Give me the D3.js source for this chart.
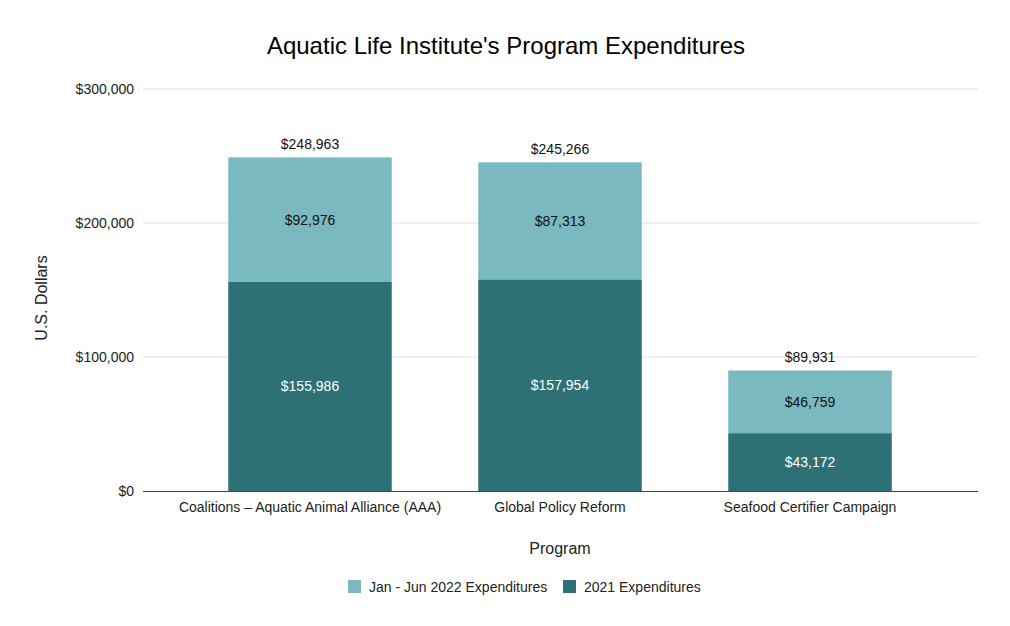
<!DOCTYPE html>
<html><head><meta charset="utf-8">
<script src="https://cdn.jsdelivr.net/npm/d3@7"></script>
<style>body{margin:0;background:#fff;} text{font-family:"Liberation Sans",Arial,sans-serif;}</style>
</head><body>
<svg id="c" width="1010" height="626"></svg>
<script>
const categories = ["Coalitions \u2013 Aquatic Animal Alliance (AAA)", "Global Policy Reform", "Seafood Certifier Campaign"];
const seriesNames = ["Jan - Jun 2022 Expenditures", "2021 Expenditures"];
const values2021 = [155986, 157954, 43172];
const values2022 = [92976, 87313, 46759];
const totals = [248963, 245266, 89931];
const yTicks = [0, 100000, 200000, 300000];
const colors = {"2021": "#2e7175", "2022": "#79b9bf"};

const svg = d3.select("#c");
const fmt = v => "$" + d3.format(",")(v);
const y = d3.scaleLinear().domain([0, 300000]).range([491, 89]);
const x = d3.scaleBand().domain(categories).range([185, 935]).paddingInner(0.346).paddingOuter(0.173);
const gridX0 = 143, gridX1 = 978;

svg.append("rect").attr("width",1010).attr("height",626).attr("fill","#fff");

svg.append("text").attr("x",506).attr("y",54).attr("text-anchor","middle")
  .attr("font-size",24).attr("fill","#000").text("Aquatic Life Institute's Program Expenditures");

yTicks.forEach(t => {
  if (t > 0) svg.append("line").attr("x1",gridX0).attr("x2",gridX1).attr("y1",y(t)).attr("y2",y(t))
    .attr("stroke","#e0e0e0").attr("stroke-width",1);
  svg.append("text").attr("x",134).attr("y",y(t)+5).attr("text-anchor","end")
    .attr("font-size",14).attr("fill","#222").text(fmt(t));
});

categories.forEach((c,i) => {
  const bx = x(c), bw = x.bandwidth();
  const v1 = values2021[i], v2 = values2022[i];
  svg.append("rect").attr("x",bx).attr("width",bw).attr("y",y(v1)).attr("height",y(0)-y(v1)).attr("fill",colors["2021"]);
  svg.append("rect").attr("x",bx).attr("width",bw).attr("y",y(v1+v2)).attr("height",y(v1)-y(v1+v2)).attr("fill",colors["2022"]);
  svg.append("text").attr("x",bx+bw/2).attr("y",(y(0)+y(v1))/2+5).attr("text-anchor","middle")
    .attr("font-size",14).attr("fill","#fff").text(fmt(v1));
  svg.append("text").attr("x",bx+bw/2).attr("y",(y(v1)+y(v1+v2))/2+5).attr("text-anchor","middle")
    .attr("font-size",14).attr("fill","#111").text(fmt(v2));
  svg.append("text").attr("x",bx+bw/2).attr("y",y(totals[i])-8).attr("text-anchor","middle")
    .attr("font-size",14).attr("fill","#111").text(fmt(totals[i]));
  svg.append("text").attr("x",bx+bw/2).attr("y",512).attr("text-anchor","middle")
    .attr("font-size",14).attr("fill","#222").text(c);
});

svg.append("line").attr("x1",gridX0).attr("x2",gridX1).attr("y1",y(0)+0.5).attr("y2",y(0)+0.5)
  .attr("stroke","#444").attr("stroke-width",1);

svg.append("text").attr("x",560).attr("y",554).attr("text-anchor","middle").attr("font-size",16).attr("fill","#222").text("Program");
svg.append("text").attr("transform","translate(47,298) rotate(-90)").attr("text-anchor","middle")
  .attr("font-size",16).attr("fill","#222").text("U.S. Dollars");

const leg = [{name: seriesNames[0], color: colors["2022"], x: 348}, {name: seriesNames[1], color: colors["2021"], x: 563}];
leg.forEach(l => {
  svg.append("rect").attr("x",l.x).attr("y",580).attr("width",13).attr("height",13).attr("fill",l.color);
  svg.append("text").attr("x",l.x+21).attr("y",592).attr("font-size",14).attr("fill","#222").text(l.name);
});
</script>
</body></html>
